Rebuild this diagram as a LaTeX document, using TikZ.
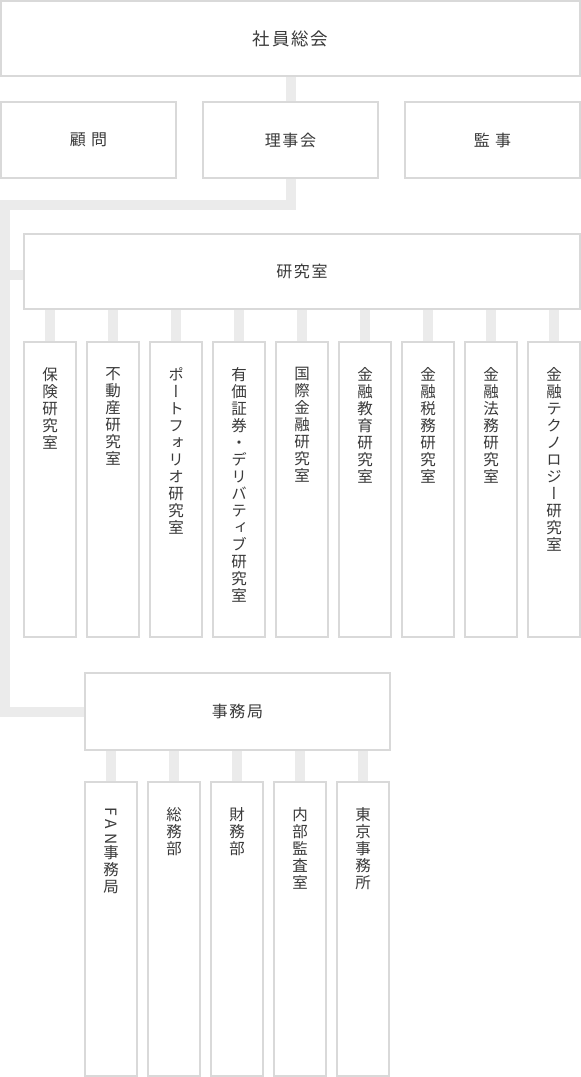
\documentclass[tikz,border=0pt]{standalone}
\usepackage{fontspec}
\usetikzlibrary{backgrounds}
\newfontfamily\hjp[LetterSpace=10]{Noto Sans CJK JP}
\newfontfamily\vjp[RawFeature=+vert]{Noto Sans CJK JP}
\newfontfamily\ljp{Noto Sans CJK JP}
\definecolor{bordc}{HTML}{D9D9D9}
\definecolor{connc}{HTML}{EBEBEB}
\definecolor{txtc}{HTML}{3A3A3A}
\tikzset{
  box/.style={draw=bordc, line width=1.4pt, fill=white, inner sep=0pt, text=txtc,
    font=\hjp\fontsize{16}{18}\selectfont},
  conn/.style={draw=connc, line width=10pt},
  vtext/.style={anchor=north, inner sep=0pt, align=center, text=txtc,
    font=\vjp\fontsize{15.5}{17}\selectfont},
}
\begin{document}
\begin{tikzpicture}[x=1pt,y=-1pt]
\useasboundingbox (0,0) rectangle (581,1077);

% boxes
\node[box, minimum width=579, minimum height=75, font=\hjp\fontsize{17.5}{20}\selectfont] (top) at (290.5,38.5) {社員総会};
\node[box, minimum width=175, minimum height=76] (komon) at (88.5,140) {顧 問};
\node[box, minimum width=175, minimum height=76] (riji) at (290.5,140) {理事会};
\node[box, minimum width=175, minimum height=76] (kanji) at (492.5,140) {監 事};
\node[box, minimum width=556, minimum height=75] (ken) at (302,271.5) {研究室};
\node[box, minimum width=305, minimum height=77] (jimu) at (237.5,711.5) {事務局};

\foreach \i/\t in {0/{保\\険\\研\\究\\室},
  1/{不\\動\\産\\研\\究\\室},
  2/{ポ\\ー\\ト\\フ\\ォ\\リ\\オ\\研\\究\\室},
  3/{有\\価\\証\\券\\・\\デ\\リ\\バ\\テ\\ィ\\ブ\\研\\究\\室},
  4/{国\\際\\金\\融\\研\\究\\室},
  5/{金\\融\\教\\育\\研\\究\\室},
  6/{金\\融\\税\\務\\研\\究\\室},
  7/{金\\融\\法\\務\\研\\究\\室},
  8/{金\\融\\テ\\ク\\ノ\\ロ\\ジ\\ー\\研\\究\\室}} {
  \node[box, minimum width=52, minimum height=295] (k\i) at (50+63*\i,489.5) {};
  \node[vtext] (kt\i) at (50+63*\i,367) {\t};
}
\foreach \i/\t in {0/{\rotatebox[origin=c]{-90}{\ljp F\hspace{4pt}A\hspace{4pt}N}\\事\\務\\局},
  1/{総\\務\\部},
  2/{財\\務\\部},
  3/{内\\部\\監\\査\\室},
  4/{東\\京\\事\\務\\所}} {
  \node[box, minimum width=52, minimum height=294] (j\i) at (111+63*\i,929) {};
  \node[vtext] (jt\i) at (111+63*\i,807) {\t};
}

\begin{scope}[on background layer]
  \fill[white] (0,0) rectangle (581,1077);
  \coordinate (c1) at (riji.south |- 0,205);
  \coordinate (c2) at (5,205);
  \coordinate (c3) at (5,275);
  \coordinate (c4) at (5,711.5);
  \draw[conn] (top.south) -- (riji.north);
  \draw[conn] (riji.south) -- (c1) -- (c2) -- (c4) -- (jimu.west);
  \draw[conn] (c3) -- (ken.west |- c3);
  \foreach \i in {0,...,8} { \draw[conn] (ken.south -| k\i) -- (k\i.north); }
  \foreach \i in {0,...,4} { \draw[conn] (jimu.south -| j\i) -- (j\i.north); }
\end{scope}
\end{tikzpicture}
\end{document}
